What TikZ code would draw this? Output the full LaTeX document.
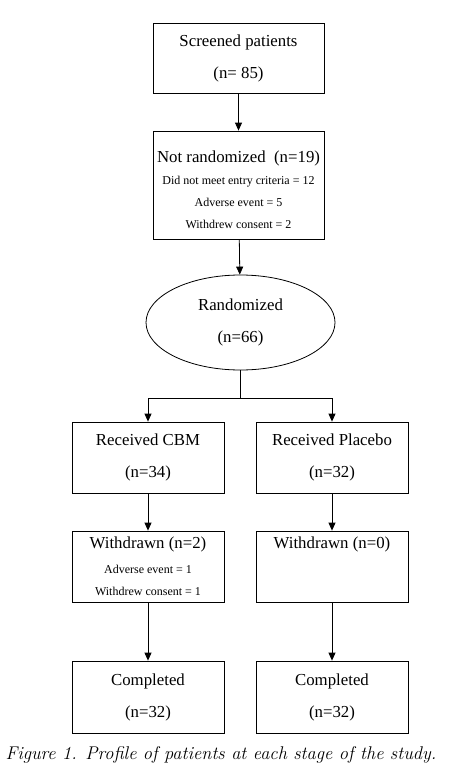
\documentclass[tikz,border=0pt]{standalone}
\usepackage{fontspec}
\newfontfamily\boxfont{Liberation Serif}
\newcommand{\mainsize}{\fontsize{16.8}{32}\selectfont}
\newcommand{\notesize}{\fontsize{12}{22}\selectfont}
\usetikzlibrary{shapes}
\usetikzlibrary{arrows.meta}
\usetikzlibrary{positioning}

\begin{document}
\begin{tikzpicture}[x=1pt,y=-1pt]
	\tikzset{box/.style = {shape=rectangle,draw,line width=0.8pt,
			align=center, inner sep=0pt, font=\boxfont\mainsize}}
	\tikzset{topbox/.style = {box, minimum width=171pt}}
	\tikzset{armbox/.style = {box, minimum width=152pt, minimum height=71pt}}
	\tikzset{notebox/.style = {font=\boxfont\notesize}}
	\tikzset{edge/.style = {-{Triangle[width=7pt,length=8pt]}, line width=0.8pt}}
	\useasboundingbox (0,0) rectangle (456,771);

	% boxes
	\node[topbox, minimum height=70pt] (screened) at (238.5,58)
		{Screened patients\\(n= 85)};
	\node[topbox, notebox, minimum height=108pt] (notrand) at (238.5,185)
		{\rule{0pt}{22pt}{\mainsize Not randomized\ \ (n=19)}\\
		Did not meet entry criteria = 12\\
		Adverse event = 5\\
		Withdrew consent = 2};
	\node[box, shape=ellipse, minimum width=189pt, minimum height=95pt]
		(rand) at (240.5,322.5) {Randomized\\(n=66)};
	\coordinate (split) at (240.5,398);

	\node[armbox] (cbm) at (148,457.5) {Received CBM\\(n=34)};
	\node[armbox] (placebo) at (332,457.5) {Received Placebo\\(n=32)};
	\node[armbox, notebox] (wdcbm) at (148,566.5)
		{{\mainsize Withdrawn (n=2)}\\[3pt]
		Adverse event = 1\\
		Withdrew consent = 1};
	\node[armbox, notebox] (wdplacebo) at (332,566.5)
		{{\mainsize Withdrawn (n=0)}\\[3pt]
		\phantom{Adverse event = 1}\\
		\phantom{Withdrew consent = 1}};
	\node[armbox, minimum height=72pt] (donecbm) at (148,697)
		{Completed\\(n=32)};
	\node[armbox, minimum height=72pt] (doneplacebo) at (332,697)
		{Completed\\(n=32)};

	\node[font=\itshape\fontsize{18.4}{20}\selectfont] (caption) at (221,755)
		{Figure 1. Profile of patients at each stage of the study.};

	%edges
	\draw[edge] (screened) to (notrand);
	\draw[edge] (notrand) to (rand);
	\draw[line width=0.8pt] (rand) to (split);
	\draw[edge] (split) -| (cbm);
	\draw[edge] (split) -| (placebo);
	\draw[edge] (cbm) to (wdcbm);
	\draw[edge] (placebo) to (wdplacebo);
	\draw[edge] (wdcbm) to (donecbm);
	\draw[edge] (wdplacebo) to (doneplacebo);
\end{tikzpicture}
\end{document}
